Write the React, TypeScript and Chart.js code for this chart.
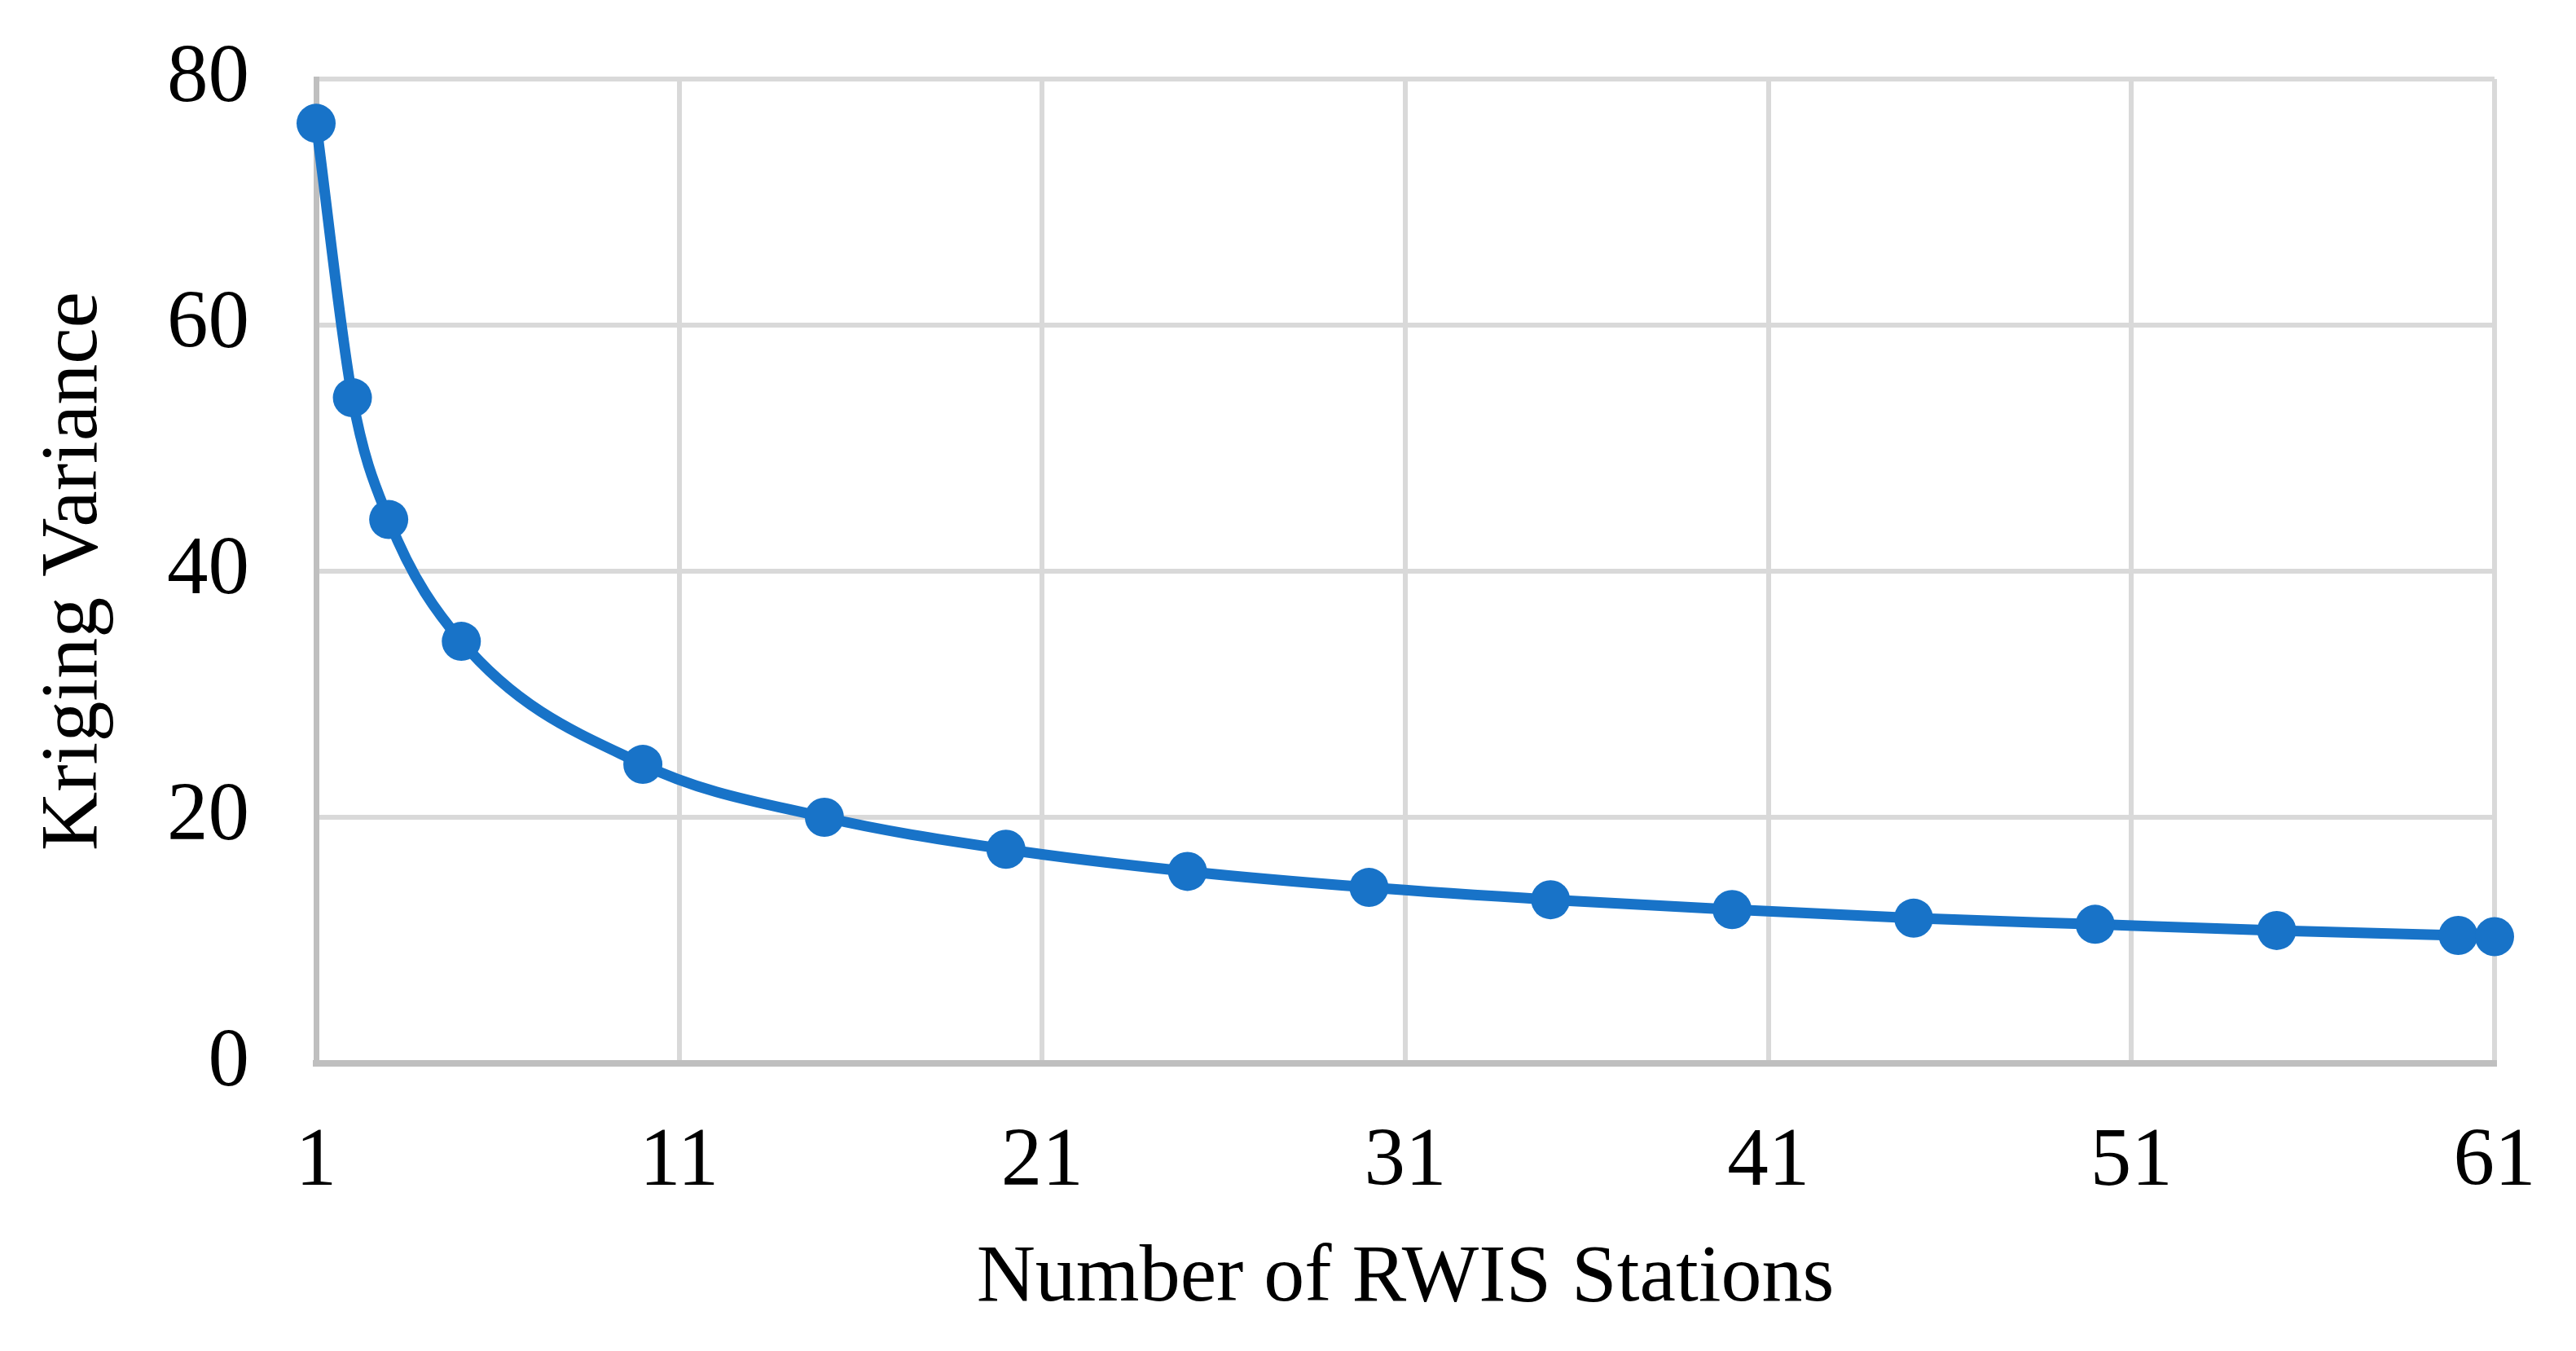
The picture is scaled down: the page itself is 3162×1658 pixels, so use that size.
import React, { useEffect, useRef } from "react";
import { Chart, registerables } from "chart.js";

Chart.register(...registerables);

const stations = [1, 2, 3, 5, 10, 15, 20, 25, 30, 35, 40, 45, 50, 55, 60, 61];
const krigingVariance = [76.4, 54.1, 44.2, 34.3, 24.3, 20.0, 17.4, 15.6, 14.3, 13.3, 12.5, 11.8, 11.3, 10.8, 10.4, 10.3];
const xTicks = [1, 11, 21, 31, 41, 51, 61];
const yTicks = [0, 20, 40, 60, 80];
const xTitle = "Number of RWIS Stations";
const yTitle = "Kriging Variance";

const W = 3162;
const H = 1658;
const FONT = "'Liberation Serif', 'Times New Roman', serif";
const BLUE = "#1873C8";

export default function App() {
  const ref = useRef<HTMLCanvasElement | null>(null);

  useEffect(() => {
    document.body.style.margin = "0";
    const canvas = ref.current;
    if (!canvas) return;
    const chart = new Chart(canvas, {
      type: "line",
      data: {
        datasets: [
          {
            data: stations.map((s, i) => ({ x: s, y: krigingVariance[i] })),
            borderColor: BLUE,
            backgroundColor: BLUE,
            borderWidth: 13,
            pointRadius: 24,
            pointBorderWidth: 0,
            pointBackgroundColor: BLUE,
            cubicInterpolationMode: "monotone",
            clip: false,
          } as any,
        ],
      },
      options: {
        responsive: false,
        devicePixelRatio: 1,
        animation: false,
        layout: { padding: { top: 97, right: 100, left: 0, bottom: 0 } },
        plugins: { legend: { display: false }, tooltip: { enabled: false } },
        scales: {
          x: {
            type: "linear",
            min: xTicks[0],
            max: xTicks[xTicks.length - 1],
            afterBuildTicks: (s: any) => {
              s.ticks = xTicks.map((v) => ({ value: v }));
            },
            afterFit: (s: any) => {
              s.height = H - 1305;
              s.paddingLeft = 0;
              s.paddingRight = 0;
              s.paddingTop = 0;
              s.paddingBottom = 0;
            },
            grid: { color: "#D9D9D9", lineWidth: 6, drawTicks: false },
            border: { color: "#BFBFBF", width: 8 },
            ticks: {
              padding: 62,
              color: "#000",
              font: { family: FONT, size: 101 },
              maxRotation: 0,
              autoSkip: false,
            },
            title: {
              display: true,
              text: xTitle,
              color: "#000",
              font: { family: FONT, size: 100 },
              padding: { top: 0, bottom: 28 },
            },
          },
          y: {
            type: "linear",
            min: yTicks[0],
            max: yTicks[yTicks.length - 1],
            afterBuildTicks: (s: any) => {
              s.ticks = yTicks.map((v) => ({ value: v }));
            },
            afterFit: (s: any) => {
              s.width = 388;
              s.paddingLeft = 0;
              s.paddingRight = 0;
              s.paddingTop = 0;
              s.paddingBottom = 0;
            },
            grid: { color: "#D9D9D9", lineWidth: 6, drawTicks: false },
            border: { color: "#BFBFBF", width: 7 },
            ticks: {
              padding: 82,
              color: "#000",
              font: { family: FONT, size: 101 },
            },
            title: {
              display: true,
              text: yTitle,
              color: "#000",
              font: { family: FONT, size: 100 },
              padding: { top: 32, bottom: 0 },
            },
          },
        },
      },
    });
    return () => chart.destroy();
  }, []);

  return (
    <div style={{ position: "absolute", left: 0, top: 0, width: W, height: H, background: "#fff" }}>
      <canvas ref={ref} width={W} height={H} style={{ width: W, height: H, display: "block" }} />
    </div>
  );
}
